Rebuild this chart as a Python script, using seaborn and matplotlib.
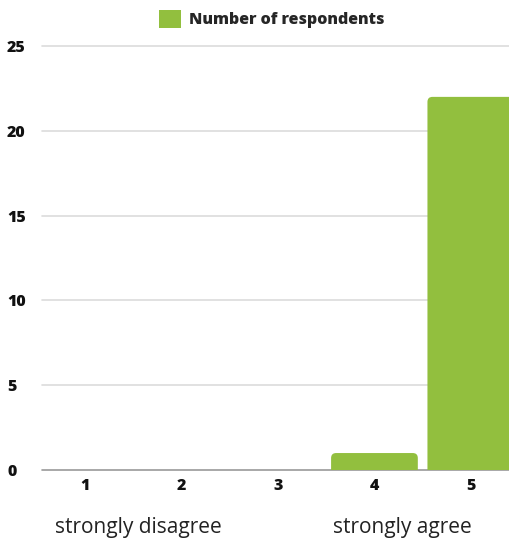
import matplotlib
matplotlib.use("Agg")
import matplotlib.pyplot as plt
import seaborn as sns
import pandas as pd
from matplotlib.patches import FancyBboxPatch, Patch

categories = ["1", "2", "3", "4", "5"]
values = [0, 0, 0, 1, 22]
series_name = "Number of respondents"
yticks = [0, 5, 10, 15, 20, 25]
scale_labels = ["strongly disagree", "strongly agree"]
scale_positions = [0.55, 3.29]

green = "#92bf3e"

sns.set_theme(style="white")
plt.rcParams["font.family"] = ["Open Sans", "DejaVu Sans"]

df = pd.DataFrame({"cat": categories, "val": values})

W, H = 510, 546
fig = plt.figure(figsize=(W / 100, H / 100), dpi=100)
left_px, right_px = 42, 519
top_px, bottom_px = 46, 470
ax = fig.add_axes([left_px / W, 1 - bottom_px / H, (right_px - left_px) / W, (bottom_px - top_px) / H])

sns.barplot(data=df, x="cat", y="val", color=green, width=0.9, ax=ax, saturation=1)

ax.set_xlim(-0.45, 4.5)
ax.set_ylim(0, 25)

# rounded top corners
px_per_x = (right_px - left_px) / 4.95
px_per_y = (bottom_px - top_px) / 25
r_px = 5
for p in list(ax.patches):
    x, w, h = p.get_x(), p.get_width(), p.get_height()
    p.remove()
    if h <= 0:
        continue
    rx = r_px / px_per_x
    aspect = (r_px / px_per_y) / rx
    fb = FancyBboxPatch((x, -1), w, h + 1,
                        boxstyle=f"round,pad=0,rounding_size={rx}",
                        mutation_aspect=aspect,
                        facecolor=green, edgecolor="none", zorder=2,
                        clip_on=True)
    ax.add_patch(fb)

ax.set_yticks(yticks)
for yv in yticks:
    ax.axhline(yv, color="#9a9a9a" if yv == 0 else "#dcdcdc", lw=1.2, zorder=1, clip_on=False)

for s in ax.spines.values():
    s.set_visible(False)
ax.set_xlabel("")
ax.set_ylabel("")
ax.tick_params(axis="both", length=0, labelsize=11.5, colors="#111111")
for lab in ax.get_xticklabels() + ax.get_yticklabels():
    lab.set_fontweight("heavy")
ax.tick_params(axis="x", pad=6)
ax.tick_params(axis="y", pad=0)
for lab in ax.get_yticklabels():
    lab.set_horizontalalignment("left")
    lab.set_x(-35 / (right_px - left_px))

for txt, pos in zip(scale_labels, scale_positions):
    ax.text(pos, -3.4, txt, ha="center", va="center", fontsize=15, color="#222222")

handles = [Patch(facecolor=green, edgecolor="none", label=series_name)]
fig.legend(handles=handles, loc="center", bbox_to_anchor=(272 / W, 1 - 19 / H),
           frameon=False, prop={"weight": "heavy", "size": 11.5},
           handlelength=1.4, handleheight=1.4, handletextpad=0.5)

fig.savefig("out.png", dpi=100)
